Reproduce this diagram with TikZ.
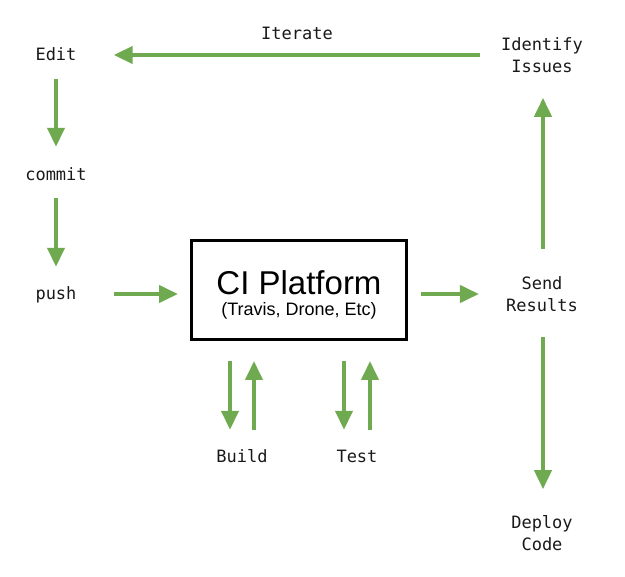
\documentclass[tikz,border=0pt]{standalone}
\usepackage{fontspec}
\setmainfont{Liberation Sans}
\newfontfamily\monofont{DejaVu Sans Mono}
\usetikzlibrary{arrows.meta}
\definecolor{arrgreen}{RGB}{112,170,80}
\definecolor{txt}{RGB}{25,25,25}
\tikzset{
  lbl/.style={font=\monofont\fontsize{17}{22}\selectfont, text=txt, inner sep=0pt, text height=12pt, text depth=0pt},
  lbltwo/.style={font=\monofont\fontsize{17}{22}\selectfont, text=txt, inner sep=0pt, align=center},
  arr/.style={draw=arrgreen, line width=4pt, -{Triangle[length=19pt,width=17pt]}},
  cibox/.style={draw=black, line width=3pt, minimum width=215pt, minimum height=99pt, inner sep=0pt, fill=white},
  citext/.style={inner sep=0pt, anchor=base, text=black}
}
\begin{document}
\begin{tikzpicture}[x=1pt,y=-1pt]
\useasboundingbox (0,0) rectangle (625,577);
\node[lbl] (edit) at (56,55) {Edit};
\node[lbl] (commit) at (56,175) {commit};
\node[lbl] (push) at (56,294) {push};
\node[lbl] (iterate) at (297,34) {Iterate};
\node[lbltwo] (identify) at (542,55) {Identify\\Issues};
\node[lbltwo] (send) at (542,294) {Send\\Results};
\node[lbltwo] (deploy) at (542,533) {Deploy\\Code};
\node[lbl] (build) at (242,457) {Build};
\node[lbl] (test) at (357,457) {Test};
\node[cibox] (ci) at (299,290) {};
\node[citext, font=\fontsize{33}{38}\selectfont] (cititle) at (299,295) {CI Platform};
\node[citext, font=\fontsize{18}{22}\selectfont] (cisub) at (299,316) {(Travis, Drone, Etc)};

\draw[arr, shorten <=21pt, shorten >=37pt] (identify.west) -- (edit.east);
\draw[arr, shorten <=18pt, shorten >=22pt] (edit.south) -- (commit.north);
\draw[arr, shorten <=17pt, shorten >=21pt] (commit.south) -- (push.north);
\draw[arr, shorten <=37pt, shorten >=12pt] (push.east) -- (push.east -| ci.west);
\draw[arr, shorten <=13pt, shorten >=27pt] (ci.east |- send.west) -- (send.west);
\draw[arr, shorten <=27pt, shorten >=25pt] ([xshift=1pt]send.north) -- ([xshift=1pt]identify.south);
\draw[arr, shorten <=25pt, shorten >=26pt] ([xshift=1pt]send.south) -- ([xshift=1pt]deploy.north);
\draw[arr, shorten <=20pt, shorten >=21pt] ([xshift=-12pt]build.north |- ci.south) -- ([xshift=-12pt]build.north);
\draw[arr, shorten <=21pt, shorten >=20pt] ([xshift=12pt]build.north) -- ([xshift=12pt]build.north |- ci.south);
\draw[arr, shorten <=20pt, shorten >=21pt] ([xshift=-13pt]test.north |- ci.south) -- ([xshift=-13pt]test.north);
\draw[arr, shorten <=21pt, shorten >=20pt] ([xshift=13pt]test.north) -- ([xshift=13pt]test.north |- ci.south);
\end{tikzpicture}
\end{document}
